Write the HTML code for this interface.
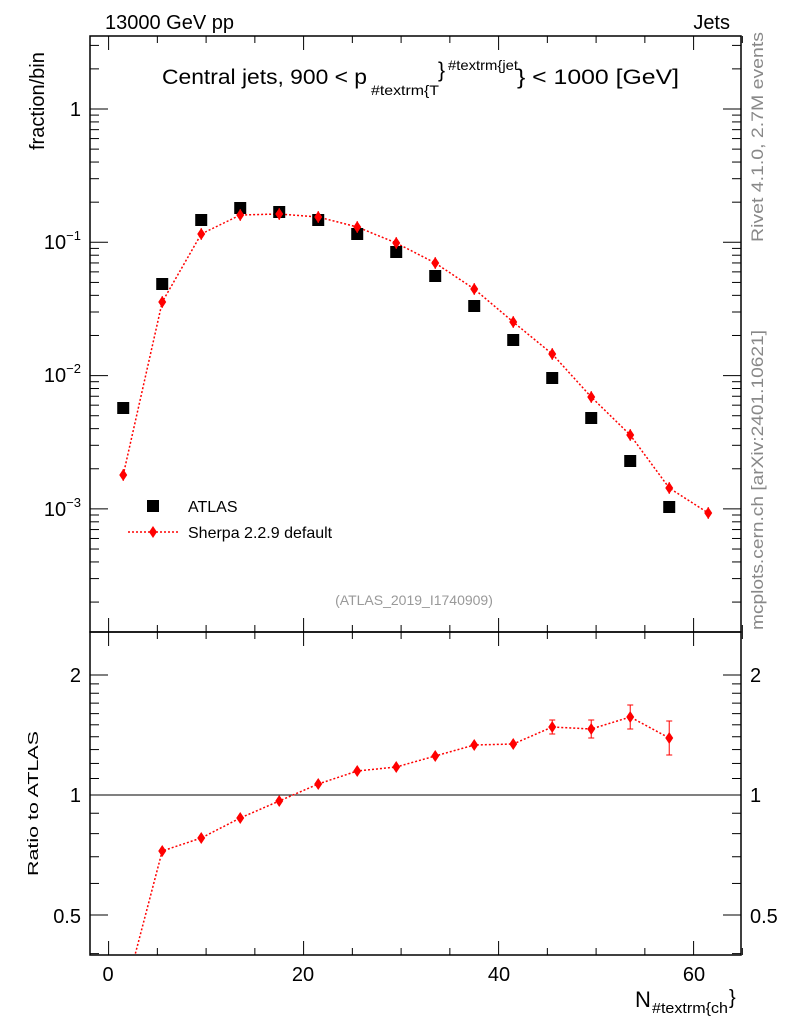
<!DOCTYPE html>
<html><head><meta charset="utf-8"><style>
body{margin:0;background:#fff}
svg{display:block;font-family:"Liberation Sans",Arial,sans-serif}
</style></head><body>
<svg id="s" width="786" height="1024" xmlns="http://www.w3.org/2000/svg">
<rect x="0" y="0" width="786" height="1024" fill="#fff"/>
<g id="g"></g>
<text x="105" y="29" font-size="20">13000 GeV pp</text>
<text x="730" y="29" font-size="20" text-anchor="end">Jets</text>
<text x="162" y="84" font-size="21" textLength="205" lengthAdjust="spacingAndGlyphs">Central jets, 900 &lt; p</text>
<text x="371" y="95" font-size="14" textLength="68" lengthAdjust="spacingAndGlyphs">#textrm{T</text>
<text x="438" y="77" font-size="21">}</text>
<text x="448" y="70" font-size="14" textLength="70" lengthAdjust="spacingAndGlyphs">#textrm{jet</text>
<text x="517" y="84" font-size="21" textLength="162" lengthAdjust="spacingAndGlyphs">} &lt; 1000 [GeV]</text>
<text transform="translate(44,150) rotate(-90)" font-size="20">fraction/bin</text>
<text transform="translate(38,876) rotate(-90)" font-size="15" textLength="145" lengthAdjust="spacingAndGlyphs">Ratio to ATLAS</text>
<text transform="translate(763,242) rotate(-90)" font-size="17" fill="#888" textLength="210" lengthAdjust="spacingAndGlyphs">Rivet 4.1.0,  2.7M events</text>
<text transform="translate(763,630) rotate(-90)" font-size="17" fill="#888" textLength="300" lengthAdjust="spacingAndGlyphs">mcplots.cern.ch [arXiv:2401.10621]</text>
<text x="414" y="605" font-size="14" fill="#999" text-anchor="middle">(ATLAS_2019_I1740909)</text>
<rect x="147" y="500" width="12" height="12" fill="#000"/>
<text x="188" y="512" font-size="16">ATLAS</text>
<line x1="128" y1="532" x2="178" y2="532" stroke="red" stroke-dasharray="2,2" stroke-width="1.5"/>
<path d="M153 526 L157 532 L153 538 L149 532Z" fill="red"/>
<text x="188" y="538" font-size="16">Sherpa 2.2.9 default</text>
<text x="108" y="981" font-size="20" text-anchor="middle">0</text>
<text x="303" y="981" font-size="20" text-anchor="middle">20</text>
<text x="499" y="981" font-size="20" text-anchor="middle">40</text>
<text x="694" y="981" font-size="20" text-anchor="middle">60</text>
<text x="635" y="1007" font-size="22">N</text>
<text x="652" y="1013" font-size="15" textLength="76" lengthAdjust="spacingAndGlyphs">#textrm{ch</text>
<text x="729" y="1004" font-size="20">}</text>
<text x="81" y="116" font-size="20" text-anchor="end">1</text>
<text x="81" y="249" font-size="20" text-anchor="end">10<tspan font-size="13" dy="-9">−1</tspan></text>
<text x="81" y="382" font-size="20" text-anchor="end">10<tspan font-size="13" dy="-9">−2</tspan></text>
<text x="81" y="516" font-size="20" text-anchor="end">10<tspan font-size="13" dy="-9">−3</tspan></text>
<text x="81" y="682" font-size="20" text-anchor="end">2</text>
<text x="81" y="802" font-size="20" text-anchor="end">1</text>
<text x="81" y="923" font-size="20" text-anchor="end">0.5</text>
<text x="750" y="682" font-size="20">2</text>
<text x="750" y="802" font-size="20">1</text>
<text x="750" y="923" font-size="20">0.5</text>
</svg>
<script>
var g=document.getElementById('g'),h='';
function L(a,b,c,d,st){h+='<line x1="'+a+'" y1="'+b+'" x2="'+c+'" y2="'+d+'" stroke="'+(st||'#000')+'" stroke-width="1"/>';}
var X0=108.6,XS=9.75;
function xp(v){return X0+v*XS;}
h+='<rect x="90" y="36" width="651" height="596" fill="none" stroke="#000" stroke-width="1.5"/>';
h+='<rect x="90" y="632" width="651" height="323" fill="none" stroke="#000" stroke-width="1.5"/>';
for(var v=0;v<=65;v+=5){var x=xp(v),M=v%20==0,l=M?14:7;
 L(x,632,x,632-l);L(x,36,x,36+l);L(x,955,x,955-l);L(x,632,x,632+l);}
function yp(v){return 109-133.3*Math.log10(v);}
for(var e=-4;e<=0;e++){for(var k=1;k<=9;k++){var v=k*Math.pow(10,e),y=yp(v);if(y<36||y>632)continue;var l=k==1?18:9;L(90,y,90+l,y);L(741,y,741-l,y);}}
function rp(v){return 795-120*Math.log2(v);}
[0.4,0.5,0.6,0.7,0.8,0.9,1,2,3].forEach(function(v){var y=rp(v);if(y<632||y>955)return;var l=(v==0.5||v==1||v==2)?18:9;L(90,y,90+l,y);L(741,y,741-l,y);});
for(var v=1.1;v<2;v+=0.1){var y=rp(v);L(90,y,99,y);L(741,y,732,y);}
L(90,795,741,795);
var xs=[];for(var i=0;i<16;i++)xs.push(xp(1.5+4*i));
var at=[408,284,220,208,212,220,234,252,276,306,340,378,418,461,507];
var sh=[475,302,234,215,214,217,227,243,263,289,322,354,397,435,488,513];
var rr=[1000,851,838,818,801,784,771,767,756,745,744,727,729,717,738];
var re=[0,0,0,0,0,0,0,0,0,0,0,3,5,8,13];
var p='';sh.forEach(function(y,i){p+=(i?'L':'M')+xs[i]+' '+y;});
h+='<path d="'+p+'" fill="none" stroke="red" stroke-width="1.5" stroke-dasharray="2,2"/>';
at.forEach(function(y,i){h+='<rect x="'+(xs[i]-6)+'" y="'+(y-6)+'" width="12" height="12" fill="#000"/>';});
sh.forEach(function(y,i){var x=xs[i];L(x,y-6,x,y+6,'red');h+='<path d="M'+x+' '+(y-6)+'L'+(x+4)+' '+y+'L'+x+' '+(y+6)+'L'+(x-4)+' '+y+'Z" fill="red"/>';});
h+='<clipPath id="c"><rect x="90" y="632" width="651" height="323"/></clipPath><g clip-path="url(#c)">';
p='';rr.forEach(function(y,i){p+=(i?'L':'M')+xs[i]+' '+y;});
h+='<path d="'+p+'" fill="none" stroke="red" stroke-width="1.5" stroke-dasharray="2,2"/>';
rr.forEach(function(y,i){if(i==0)return;var x=xs[i];if(re[i]>0){L(x,y-re[i]-4,x,y+re[i]+4,'red');L(x-3,y-re[i]-4,x+3,y-re[i]-4,'red');L(x-3,y+re[i]+4,x+3,y+re[i]+4,'red');}
h+='<path d="M'+x+' '+(y-6)+'L'+(x+4)+' '+y+'L'+x+' '+(y+6)+'L'+(x-4)+' '+y+'Z" fill="red"/>';});
h+='</g>';
g.innerHTML=h;
</script>
</body></html>
